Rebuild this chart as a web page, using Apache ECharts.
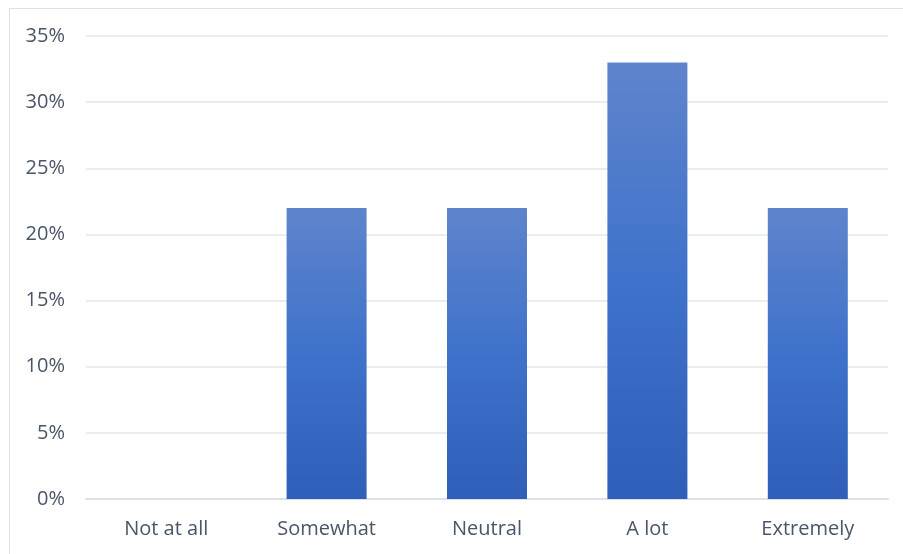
<!DOCTYPE html>
<html>
<head>
<meta charset="utf-8">
<script src="https://cdn.jsdelivr.net/npm/echarts@6/dist/echarts.min.js"></script>
<style>
  html, body { margin: 0; padding: 0; background: #fff; }
  #frame { position: absolute; left: 9px; top: 8px; width: 1000px; height: 700px; border: 1px solid #DDE1E6; }
  #main { position: absolute; left: 0; top: 0; width: 903px; height: 554px; }
</style>
</head>
<body>
<div id="frame"></div>
<div id="main"></div>
<script>
var categories = ['Not at all', 'Somewhat', 'Neutral', 'A lot', 'Extremely'];
var shares = [0, 22, 22, 33, 22];

var chart = echarts.init(document.getElementById('main'));
var txt = '#4A5568';
chart.setOption({
	animation: false,
	textStyle: { fontFamily: 'Open Sans' },
	grid: { left: 86, right: 15, top: 36, bottom: 55 },
	xAxis: {
		type: 'category',
		data: categories,
		axisLine: { lineStyle: { color: '#DDE1E6', width: 2 } },
		axisTick: { show: false },
		axisLabel: { color: txt, fontSize: 20, margin: 20 }
	},
	yAxis: {
		type: 'value',
		min: 0,
		max: 35,
		interval: 5,
		axisLine: { show: false },
		axisTick: { show: false },
		splitLine: { lineStyle: { color: '#E3E7EB', width: 1.5 } },
		axisLabel: { color: txt, fontSize: 20, margin: 21, formatter: '{value}%' }
	},
	series: [{
		type: 'bar',
		data: shares,
		barWidth: 80,
		itemStyle: {
			color: new echarts.graphic.LinearGradient(0, 0, 0, 1, [
				{ offset: 0, color: '#5F84CC' },
				{ offset: 0.5, color: '#3F72CB' },
				{ offset: 1, color: '#2F5FB8' }
			])
		}
	}]
});
</script>
</body>
</html>
